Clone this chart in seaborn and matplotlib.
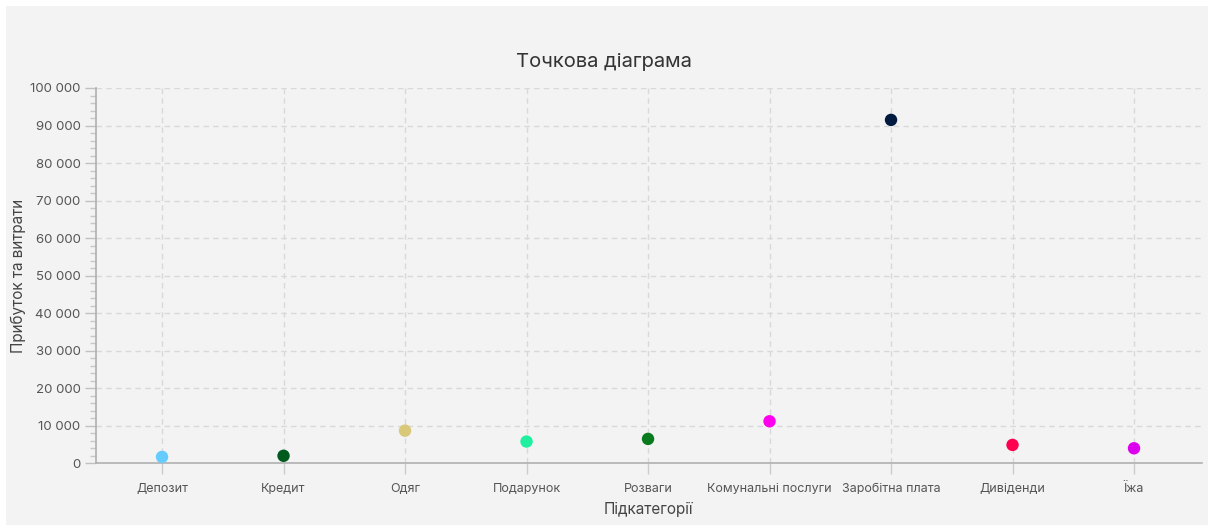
import matplotlib
matplotlib.use("Agg")
import matplotlib.pyplot as plt
from matplotlib.patches import Rectangle
from matplotlib.ticker import FuncFormatter, MultipleLocator
import seaborn as sns
import pandas as pd

# Subcategory values
categories = ["Депозит", "Кредит", "Одяг", "Подарунок", "Розваги",
              "Комунальні послуги", "Заробітна плата", "Дивіденди", "Їжа"]
values = [1700, 2000, 8700, 5800, 6500, 11200, 91500, 4900, 4000]
colors = ["#66ccff", "#005a1e", "#d8c878", "#1ff0a0", "#0a7a1e",
          "#ff00ee", "#001a40", "#ff0050", "#dd00ee"]

title = "Точкова діаграма"
x_label = "Підкатегорії"
y_label = "Прибуток та витрати"

sns.set_theme(style="white")
plt.rcParams["font.family"] = ["Inter", "DejaVu Sans"]

W, H = 1208, 525
fig = plt.figure(figsize=(W / 100, H / 100), dpi=100, facecolor="white")
fig.patches.append(Rectangle((6 / W, 0), 1, 1 - 6 / H, transform=fig.transFigure,
                             facecolor="#f3f3f3", edgecolor="none", zorder=-10))

ax = fig.add_axes([95.7 / W, 1 - 463.3 / H, (1201.7 - 95.7) / W, (463.3 - 88) / H])
ax.set_facecolor("none")

df = pd.DataFrame({"cat": categories, "val": values})
sns.scatterplot(data=df, x="cat", y="val", hue="cat", palette=dict(zip(categories, colors)),
                s=80, linewidth=0, legend=False, ax=ax, zorder=5, clip_on=False)

ax.set_xlim(-0.546, 8.557)
ax.set_ylim(0, 100000)
ax.yaxis.set_major_locator(MultipleLocator(10000))
ax.yaxis.set_minor_locator(MultipleLocator(2000))
ax.yaxis.set_major_formatter(FuncFormatter(lambda v, _: f"{int(v):,}".replace(",", " ")))

grid_kw = dict(color="#d9d9d9", linestyle=(0, (4, 3)), linewidth=1)
ax.grid(True, axis="both", which="major", **grid_kw)
ax.set_axisbelow(True)

for side in ("top", "right"):
    ax.spines[side].set_visible(False)
for side in ("left", "bottom"):
    ax.spines[side].set_color("#b0b0b0")
    ax.spines[side].set_linewidth(1.2)

ax.tick_params(axis="y", which="major", length=8, width=1, color="#c0c0c0",
               labelsize=9.5, labelcolor="#555555", pad=3, left=True)
ax.tick_params(axis="y", which="minor", length=4, width=1, color="#c8c8c8", left=True)
ax.tick_params(axis="x", which="major", length=8, width=1, color="#cccccc",
               labelsize=9, labelcolor="#555555", pad=6, bottom=True)

ax.set_xlabel(x_label, fontsize=11, color="#444444", labelpad=5)
ax.set_ylabel(y_label, fontsize=11, color="#444444", labelpad=3)
fig.text(0.5, 1 - 62 / H, title, ha="center", va="center", fontsize=14.5, color="#333333")

fig.savefig("out.png", dpi=100, facecolor=fig.get_facecolor())
